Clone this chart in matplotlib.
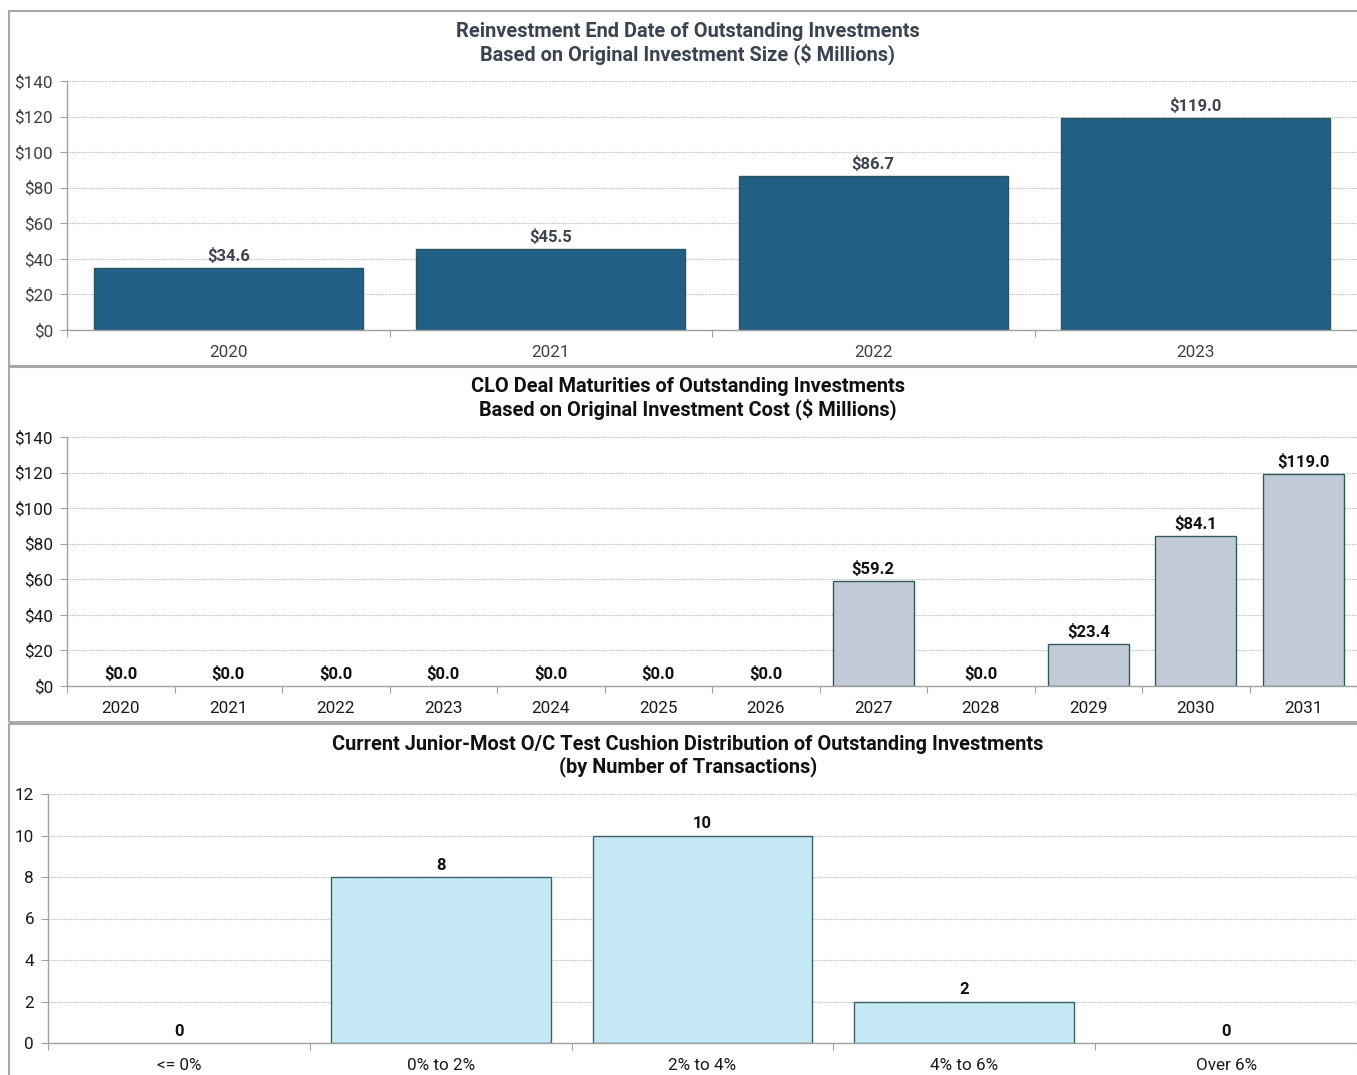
import numpy as np
import matplotlib.pyplot as plt
from matplotlib.patches import Rectangle
from matplotlib.ticker import FixedLocator

plt.rcParams['font.family'] = ['Roboto', 'DejaVu Sans']

# reinvestment end dates
reinv_years = ['2020', '2021', '2022', '2023']
reinv_vals = [34.6, 45.5, 86.7, 119.0]

# CLO deal maturities
mat_years = ['2020', '2021', '2022', '2023', '2024', '2025',
             '2026', '2027', '2028', '2029', '2030', '2031']
mat_vals = [0.0, 0.0, 0.0, 0.0, 0.0, 0.0, 0.0, 59.2, 0.0, 23.4, 84.1, 119.0]

# O/C cushion buckets
oc_buckets = ['<= 0%', '0% to 2%', '2% to 4%', '4% to 6%', 'Over 6%']
oc_counts = [0, 8, 10, 2, 0]

W, H = 1357, 1075
fig = plt.figure(figsize=(W / 100, H / 100), dpi=100)

TITLE_SIZE = 14.4
TICK_SIZE = 12.3
LABEL_SIZE = 12


def px_axes(left, right, top, bottom):
    return fig.add_axes([left / W, 1 - bottom / H, (right - left) / W, (bottom - top) / H])


def frame(top, bottom):
    fig.patches.append(Rectangle((9 / W, 1 - bottom / H), (W + 20) / W, (bottom - top) / H,
                                 transform=fig.transFigure, fill=False,
                                 edgecolor='#a8a8a8', linewidth=1.5, zorder=0))


def style(ax, n, ymax, step, fmt, tcolor):
    ax.set_xlim(-0.5, n - 0.5)
    ax.set_ylim(0, ymax)
    ax.set_yticks(np.arange(0, ymax + step / 2, step))
    ax.set_yticklabels([fmt(v) for v in np.arange(0, ymax + step / 2, step)])
    ax.xaxis.set_minor_locator(FixedLocator(np.arange(-0.5, n, 1.0)))
    ax.tick_params(axis='x', which='major', length=0, pad=10.5, labelsize=TICK_SIZE, labelcolor=tcolor)
    ax.tick_params(axis='x', which='minor', length=5, width=0.8, color='#a0a0a0')
    ax.tick_params(axis='y', length=5, width=0.8, color='#a0a0a0', pad=5,
                   labelsize=TICK_SIZE, labelcolor=tcolor)
    for s in ['top', 'right']:
        ax.spines[s].set_visible(False)
    for s in ['left', 'bottom']:
        ax.spines[s].set_color('#a0a0a0')
        ax.spines[s].set_linewidth(1.0)
    ax.yaxis.grid(True, linestyle=(0, (1, 1)), color='#b8b8b8', linewidth=0.8)
    ax.set_axisbelow(True)
    ax.patch.set_alpha(0)


def bars(ax, vals, width, face, edge):
    x = np.arange(len(vals))
    lw = [1.0 if v > 0 else 0 for v in vals]
    ax.bar(x, vals, width=width, color=face, edgecolor=edge, linewidth=lw)
    return x


# top panel
frame(11, 366)
ax1 = px_axes(67, 1357, 81, 330)
x1 = bars(ax1, reinv_vals, 0.835, '#215f87', '#2c5360')
ax1.set_xticks(x1, reinv_years)
style(ax1, len(reinv_years), 140, 20, lambda v: f'${v:.0f}', '#404040')
for xi, v in zip(x1, reinv_vals):
    ax1.annotate(f'${v:.1f}', (xi, v), xytext=(0, 3), textcoords='offset points',
                 ha='center', va='bottom', fontsize=LABEL_SIZE, fontweight='bold', color='#3d4450')
fig.text(688 / W, 1 - 43.5 / H,
         'Reinvestment End Date of Outstanding Investments\nBased on Original Investment Size ($ Millions)',
         ha='center', va='center', fontsize=TITLE_SIZE, fontweight='bold', color='#3a4350',
         linespacing=1.15)

# middle panel
frame(367, 722)
ax2 = px_axes(67, 1357, 437, 686)
x2 = bars(ax2, mat_vals, 0.75, '#c3cad7', '#2e5c5c')
ax2.set_xticks(x2, mat_years)
style(ax2, len(mat_years), 140, 20, lambda v: f'${v:.0f}', '#1a1a1a')
for xi, v in zip(x2, mat_vals):
    ax2.annotate(f'${v:.1f}', (xi, v), xytext=(0, 3), textcoords='offset points',
                 ha='center', va='bottom', fontsize=LABEL_SIZE, fontweight='bold', color='#111111')
fig.text(688 / W, 1 - 398.5 / H,
         'CLO Deal Maturities of Outstanding Investments\nBased on Original Investment Cost ($ Millions)',
         ha='center', va='center', fontsize=TITLE_SIZE, fontweight='bold', color='#111111',
         linespacing=1.15)

# bottom panel
frame(724, 1090)
ax3 = px_axes(48, 1357, 794, 1043)
x3 = bars(ax3, oc_counts, 0.84, '#c5eaf5', '#3a6166')
ax3.set_xticks(x3, oc_buckets)
style(ax3, len(oc_buckets), 12, 2, lambda v: f'{v:.0f}', '#1a1a1a')
for xi, v in zip(x3, oc_counts):
    ax3.annotate(f'{v}', (xi, v), xytext=(0, 3), textcoords='offset points',
                 ha='center', va='bottom', fontsize=LABEL_SIZE, fontweight='bold', color='#111111')
fig.text(688 / W, 1 - 756 / H,
         'Current Junior-Most O/C Test Cushion Distribution of Outstanding Investments\n(by Number of Transactions)',
         ha='center', va='center', fontsize=TITLE_SIZE, fontweight='bold', color='#111111',
         linespacing=1.15)

fig.savefig('out.png', dpi=100)
